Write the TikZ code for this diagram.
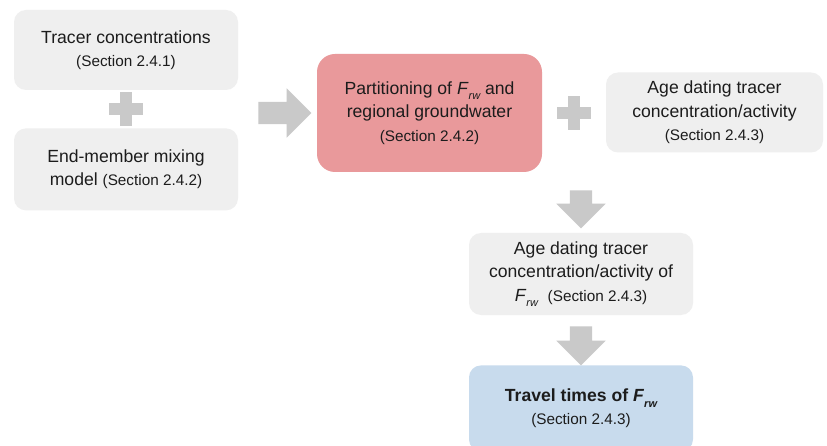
\documentclass[tikz,border=0pt]{standalone}
\usepackage{fontspec}
\setmainfont{Liberation Sans}
\definecolor{boxgray}{RGB}{239,239,239}
\definecolor{boxred}{RGB}{233,153,155}
\definecolor{boxblue}{RGB}{200,219,237}
\definecolor{arrowgray}{RGB}{201,201,201}
\definecolor{textgray}{RGB}{28,28,28}
\usetikzlibrary{positioning, shapes.arrows, calc}

\newcommand{\frw}{\textit{F}\raisebox{-0.6ex}{\fontsize{11}{11}\selectfont\itshape rw}}
\newcommand{\seclabel}[1]{{\fontsize{15.3}{23}\selectfont(Section #1)}}

\tikzset{
  stage/.style={align=center, rounded corners=12pt, fill=boxgray, inner sep=0pt,
    minimum width=224pt, minimum height=80pt, text=textgray,
    font=\fontsize{17.6}{23.5}\selectfont},
  blockarrow/.style={single arrow, fill=arrowgray, inner sep=11pt,
    single arrow head extend=13.5pt, minimum height=#1, anchor=center},
  plusbar/.style={fill=arrowgray}
}

\begin{document}
\begin{tikzpicture}[x=1pt, y=-1pt]
  \clip (0,0) rectangle (827,446);
  \fill[white] (0,0) rectangle (827,446);

  \node [stage] (tracer) at (126,50) {Tracer concentrations\\ \seclabel{2.4.1}};
  \node [stage, minimum height=82pt, below=38pt of tracer] (mixing) {End-member mixing\\ model \seclabel{2.4.2}};

  \node [stage, fill=boxred, minimum width=225pt, minimum height=118pt, rounded corners=18pt]
    (partition) at (429.5,113) {Partitioning of \frw{} and\\ regional groundwater\\ \seclabel{2.4.2}};
  \node [stage, minimum width=217pt] (agetracer) at (714.5,112.5)
    {Age dating tracer\\ concentration/activity\\ \seclabel{2.4.3}};

  \node [stage, minimum height=82pt] (agefrw) at (581,274)
    {Age dating tracer\\ concentration/activity of\\ \frw\ \ \seclabel{2.4.3}};
  \node [stage, fill=boxblue, minimum height=86pt, below=50pt of agefrw] (travel)
    {\textbf{Travel times of \textit{F}\raisebox{-0.6ex}{\fontsize{11}{11}\selectfont\bfseries\itshape rw}}\\ \seclabel{2.4.3}};

  % plus signs
  \coordinate (plusa) at ($(tracer.south)!0.5!(mixing.north)$);
  \coordinate (plusb) at ($(partition.east)!0.5!(agetracer.west)$);
  \foreach \p in {plusa, plusb} {
    \fill [plusbar] ($(\p)+(-17,-6)$) rectangle ($(\p)+(17,6)$);
    \fill [plusbar] ($(\p)+(-6,-17)$) rectangle ($(\p)+(6,17)$);
  }

  % arrows
  \node [blockarrow=53pt] (toparts) at ($(partition.west)+(-37.5,0)$) {};
  \node [blockarrow=38pt, rotate=-90] (toage) at ($(agefrw.north)+(0,-29)$) {};
  \node [blockarrow=39pt, rotate=-90] (totravel) at ($(agefrw.south)!0.5!(travel.north)$) {};
\end{tikzpicture}
\end{document}
